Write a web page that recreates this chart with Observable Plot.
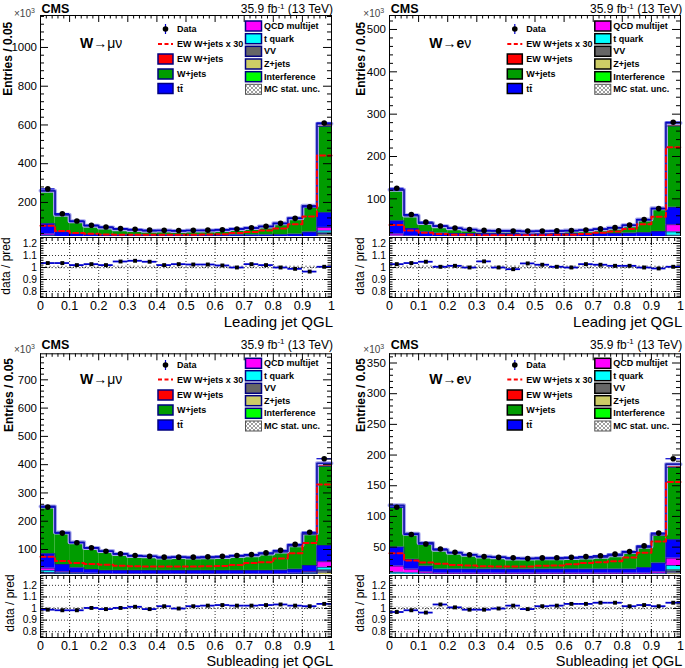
<!DOCTYPE html>
<html><head><meta charset="utf-8">
<script src="https://cdn.jsdelivr.net/npm/d3@7"></script>
<script src="https://cdn.jsdelivr.net/npm/@observablehq/plot@0.6"></script>
<style>
body{margin:0;background:#fff;}
#root{position:relative;width:685px;height:668px;overflow:hidden;background:#fff;}
#root svg{position:absolute;}
</style></head><body><div id="root"></div>
<script>
// ---------- shared axis / category data ----------
const binEdges = [0,0.05,0.1,0.15,0.2,0.25,0.3,0.35,0.4,0.45,0.5,0.55,0.6,0.65,0.7,0.75,0.8,0.85,0.9,0.95,1];
const xTickLabels = [0,0.1,0.2,0.3,0.4,0.5,0.6,0.7,0.8,0.9,1];
const ratioTickLabels = [0.8,0.9,1,1.1,1.2];
const compNames = ["Z+jets","VV","Interference","t quark","QCD multijet","tt\u0304","W+jets","EW W+jets"];
const compColors = ["#cccc66","#666666","#00ff00","#00ffff","#ff00ff","#0000ff","#009c00","#ff0000"];

// ---------- Leading jet, W -> mu nu ----------
const yTicksLeadMu = [200,400,600,800,1000];
const dataLeadMu  = [270,142,104,82,73,65,61,57,56,55,56,57,59,63,69,77,92,118,177,610];
const ratioLeadMu = [1.037,1.037,1.02,1.028,1.02,1.05,1.056,1.048,1.02,1.028,1.025,1.025,1.017,1.0,1.028,1.02,1.0,0.989,0.966,1.006];
const ewx30LeadMu = [80,52,42,38,35,33,33,33,33,33,33,34,36,42,47,55,65,88,128,442];
const wjetsLeadMu = [168,87,63,45,38,29,25,21,22,20,22,22,25,30,34,42,57,80,132,445];
const ttLeadMu    = [53,25,19,18,16,16,16,16,16,16,16,16,16,16,16,16,17,17,23,76];
const qcdLeadMu   = [8,4,3,2,2,2,2,2,2,2,2,2,2,2,2,2,2,3,4,18];
const tqLeadMu    = [8,5,4,3,3,3,3,3,3,3,3,3,3,3,3,3,3,4,5,10];
const vvLeadMu    = [4,3,2,2,2,2,2,2,2,2,2,2,2,2,2,2,2,2,3,8];
const zjLeadMu    = [15,10,9,8,8,8,8,8,8,8,8,8,8,8,8,8,8,9,11,32];
const intLeadMu   = [2,1,1,1,1,1,1,1,1,1,1,1,1,1,1,1,1,1,1,3];
const uncLeadMu   = [0.01,0.012,0.012,0.012,0.012,0.012,0.012,0.012,0.012,0.012,0.012,0.012,0.012,0.012,0.012,0.012,0.012,0.012,0.012,0.008];

// ---------- Leading jet, W -> e nu ----------
const yTicksLeadE = [100,200,300,400,500];
const dataLeadE  = [125,63,45,36,31,27.5,25.5,24.3,24,23.8,24,24.3,25,26.5,29,32,38,51,77,281];
const ratioLeadE = [1.028,1.037,1.048,1.006,1.014,1.0,1.051,1.0,0.986,1.034,1.023,1.006,1.0,1.028,1.023,1.014,1.014,1.0,0.992,1.006];
const ewx30LeadE = [38,25,20,17,15,15,14,14,14,14,14,15,15,17,20,23,29,40,58,222];
const wjetsLeadE = [72,30,20,16,12,9,6,6,6,4.5,5,5.7,6.5,7.2,9.6,12.8,17.5,29.7,52.7,192];
const ttLeadE    = [31,18,12.5,11.5,10.5,10.5,10.5,10.5,10.5,10.5,10.5,10.5,10.5,10.5,10.5,10.5,11.5,11.5,12.5,41];
const qcdLeadE   = [5,4,3,2,2,2,2,2,2,2,2,2,2,2,2,2,2,2,3,17];
const tqLeadE    = [4,3,2,2,2,2,2,2,2,2,2,2,2,2,2,2,2,2,3,8];
const vvLeadE    = [2,1,1,1,1,1,1,1,1,1,1,1,1,1,1,1,1,1,1,4];
const zjLeadE    = [5,3,3,2,2,2,2,2,2,2,2,2,2,2,2,2,2,3,3,8];
const intLeadE   = [1,1,0.5,0.5,0.5,0.5,0.5,0.5,0.5,0.5,0.5,0.5,0.5,0.5,0.5,0.5,0.5,0.5,0.5,2];
const uncLeadE   = [0.012,0.014,0.014,0.014,0.014,0.014,0.014,0.014,0.014,0.014,0.014,0.014,0.014,0.014,0.014,0.014,0.014,0.014,0.012,0.01];

// ---------- Subleading jet, W -> mu nu ----------
const yTicksSubMu = [100,200,300,400,500,600,700];
const dataSubMu  = [250,158,124,106,94,85,79,76,73,73,73,74,76,79,82,88,97,118,161,421];
const ratioSubMu = [0.99,0.985,0.985,1.005,0.995,1.005,1.015,0.995,1.02,1.0,1.02,1.025,1.03,1.025,1.025,1.03,1.035,1.025,1.02,1.04];
const ewx30SubMu = [74,59,52,49,46,43,41,40,40,40,40,41,42,45,52,55,68,87,123,330];
const wjetsSubMu = [165,111,89,75,67,57,50,49,44,46,44,45,46,50,52,58,64,82,110,280];
const ttSubMu    = [51,26,17,13,12,12,12,12,12,12,12,12,12,12,12,12,13,14,21.5,57];
const qcdSubMu   = [8,3,2,2,2,2,2,2,2,2,2,2,2,2,2,2,2,2,4,20];
const tqSubMu    = [7,4,3,2,2,2,2,2,2,2,2,2,2,2,2,2,2,2,4,9];
const vvSubMu    = [4,3,3,3,2,2,2,2,2,2,2,2,2,2,2,2,2,3,3,5];
const zjSubMu    = [13,10,9,8,7,7,7,7,7,7,7,7,7,7,7,7,7,8,10,20];
const intSubMu   = [2,1,1,1,1,1,1,1,1,1,1,1,1,1,1,1,1,1,1,3];
const uncSubMu   = [0.01,0.01,0.01,0.01,0.01,0.01,0.01,0.01,0.01,0.01,0.01,0.01,0.01,0.01,0.01,0.01,0.01,0.01,0.01,0.008];

// ---------- Subleading jet, W -> e nu ----------
const yTicksSubE = [50,100,150,200,250,300,350];
const dataSubE  = [115,70.5,55,47,41.5,37.5,34.5,33.2,32.5,31.3,32.4,32.6,33.4,34.5,36,38.5,42.7,52,72.8,194];
const ratioSubE = [0.97,0.985,0.965,1.035,1.01,0.99,0.99,1.0,1.025,0.995,1.02,1.025,1.04,1.04,1.05,1.05,1.02,1.03,1.02,1.05];
const ewx30SubE = [40,28,25,23,21,20,19,18.5,18.5,18.5,19.5,20,22,24,25.5,27,33,41,59,156];
const wjetsSubE = [67,41,37,31,26,23,20,19,17,17,17,17,17.4,18.4,19.4,21.8,26.8,32.6,45.4,118];
const ttSubE    = [31,16,9.5,6.5,6.5,6.5,6.5,6.5,6.5,6.5,6.5,6.5,6.5,6.5,6.5,6.5,6.5,9,14.5,30];
const qcdSubE   = [10,6,3,2,2,2,2,2,2,2,2,2,2,2,2,2,2,2,3,12];
const tqSubE    = [3,3,2,2,2,2,2,2,2,2,2,2,2,2,2,2,2,2,2,7];
const vvSubE    = [2,1,1,1,1,1,1,1,1,1,1,1,1,1,1,1,1,1,1,3];
const zjSubE    = [3,3,3,2,2,2,2,2,2,2,2,2,2,2,2,2,2,2,3,8];
const intSubE   = [1,1,0.5,0.5,0.5,0.5,0.5,0.5,0.5,0.5,0.5,0.5,0.5,0.5,0.5,0.5,0.5,0.5,0.5,2];
const uncSubE   = [0.012,0.012,0.012,0.012,0.012,0.012,0.012,0.012,0.012,0.012,0.012,0.012,0.012,0.012,0.012,0.012,0.012,0.012,0.012,0.01];

// ---------- text ----------
const legendCol1 = ["Data","EW W+jets x 30","EW W+jets","W+jets","tt\u0304"];
const legendCol2 = ["QCD multijet","t quark","VV","Z+jets","Interference","MC stat. unc."];
const col2Colors = ["#ff00ff","#00ffff","#666666","#cccc66","#00ff00"];

const FONT = "'Liberation Sans', Arial, Helvetica, sans-serif";
const root = document.getElementById("root");

const panels = [
  {id:"TL", ox:0, oy:0, lep:"mu", xTitle:"Leading jet QGL", yMax:1165, yTicks:yTicksLeadMu, yMinor:40,
   data:dataLeadMu, ratio:ratioLeadMu, ewx30:ewx30LeadMu, comps:[zjLeadMu,vvLeadMu,intLeadMu,tqLeadMu,qcdLeadMu,ttLeadMu,wjetsLeadMu], unc:uncLeadMu,
   mainTop:15, mainH:225.7, rTop:236, rH:60, rMB:35, rDom:[0.75,1.25], xPad:4,
   xTitleY:327, xTitleFs:15, cmsY:13.3, tenY:16.5, wY:48, yTitleX:11.5, yTitleTop:21.7, dpX:9.7, dpC:266,
   c1:[29,44,59,74,88.5], c2:[26,38.7,51.3,64,76.7,89.3], box:"#000080"},
  {id:"TR", ox:349.3, oy:0, lep:"e", xTitle:"Leading jet QGL", yMax:533, yTicks:yTicksLeadE, yMinor:20,
   data:dataLeadE, ratio:ratioLeadE, ewx30:ewx30LeadE, comps:[zjLeadE,vvLeadE,intLeadE,tqLeadE,qcdLeadE,ttLeadE,wjetsLeadE], unc:uncLeadE,
   mainTop:15, mainH:225.7, rTop:236, rH:60, rMB:35, rDom:[0.75,1.25], xPad:4,
   xTitleY:327, xTitleFs:15, cmsY:13.3, tenY:16.5, wY:48, yTitleX:365, yTitleTop:21.7, dpX:363.7, dpC:266,
   c1:[29,44,59,74,88.5], c2:[26,38.7,51.3,64,76.7,89.3], box:"#000000"},
  {id:"BL", ox:0, oy:338, lep:"mu", xTitle:"Subleading jet QGL", yMax:792, yTicks:yTicksSubMu, yMinor:20,
   data:dataSubMu, ratio:ratioSubMu, ewx30:ewx30SubMu, comps:[zjSubMu,vvSubMu,intSubMu,tqSubMu,qcdSubMu,ttSubMu,wjetsSubMu], unc:uncSubMu,
   mainTop:15.3, mainH:224, rTop:574, rH:62, rMB:31, rDom:[0.75,1.285], xPad:3.5,
   xTitleY:666, xTitleFs:14.5, cmsY:348.5, tenY:353, wY:384.3, yTitleX:13, yTitleTop:358, dpX:13.7, dpC:603,
   c1:[365,379.5,395,410,425], c2:[363.3,375.7,388.3,400.7,413.3,426], box:"#000080"},
  {id:"BR", ox:349.3, oy:338, lep:"e", xTitle:"Subleading jet QGL", yMax:365, yTicks:yTicksSubE, yMinor:10,
   data:dataSubE, ratio:ratioSubE, ewx30:ewx30SubE, comps:[zjSubE,vvSubE,intSubE,tqSubE,qcdSubE,ttSubE,wjetsSubE], unc:uncSubE,
   mainTop:15.3, mainH:224, rTop:574, rH:62, rMB:31, rDom:[0.75,1.285], xPad:3.5,
   xTitleY:666, xTitleFs:14.5, cmsY:348.5, tenY:353, wY:384.3, yTitleX:365, yTitleTop:358, dpX:363.7, dpC:603,
   c1:[365,379.5,395,410,425], c2:[363.3,375.7,388.3,400.7,413.3,426], box:"#000000"}
];

const PW = 291; // plot width in px (frame)
const xMinor = d3.range(0, 1.0001, 0.02).map(v => +v.toFixed(2)).filter(v => !xTickLabels.includes(v));

function insideTicks(xMaj, xMin, yMaj, yMin, W, H, lx, ly) {
  const s = {stroke: "black", strokeWidth: 1};
  return [
    Plot.tickX(xMaj, {x: d => d, insetTop: H - lx, ...s}),
    Plot.tickX(xMaj, {x: d => d, insetBottom: H - lx, ...s}),
    Plot.tickX(xMin, {x: d => d, insetTop: H - lx / 2, ...s}),
    Plot.tickX(xMin, {x: d => d, insetBottom: H - lx / 2, ...s}),
    Plot.tickY(yMaj, {y: d => d, insetRight: W - ly, ...s}),
    Plot.tickY(yMaj, {y: d => d, insetLeft: W - ly, ...s}),
    Plot.tickY(yMin, {y: d => d, insetRight: W - ly / 2, ...s}),
    Plot.tickY(yMin, {y: d => d, insetLeft: W - ly / 2, ...s})
  ];
}
function stepPoints(vals) {
  return binEdges.map((e, i) => ({x: e, y: vals[Math.min(i, vals.length - 1)]}));
}
function place(svg, left, top) {
  svg.style.position = "absolute";
  svg.style.left = left + "px";
  svg.style.top = top + "px";
  svg.style.maxWidth = "none";
  root.appendChild(svg);
}

panels.forEach(p => {
  const ew = p.ewx30.map(v => v / 30);
  const comps = [...p.comps, ew];
  const rects = [];
  const tops = comps.map(() => []);
  for (let i = 0; i < 20; i++) {
    let base = 0;
    comps.forEach((c, k) => {
      rects.push({x1: binEdges[i], x2: binEdges[i + 1], y1: base, y2: base + c[i], fill: compColors[k]});
      base += c[i];
      tops[k].push(base);
    });
  }
  const total = tops[tops.length - 1];
  const bins = p.data.map((d, i) => ({
    x1: binEdges[i], x2: binEdges[i + 1], xc: (binEdges[i] + binEdges[i + 1]) / 2,
    d, r: p.ratio[i], u: p.unc[i]
  }));
  const yMin = d3.range(0, p.yMax, p.yMinor).filter(v => !p.yTicks.includes(v));
  const step = {x: "x", y: "y", curve: "step-after"};

  const main = Plot.plot({
    width: 340, height: p.mainTop + p.mainH,
    marginLeft: 40, marginRight: 9, marginTop: p.mainTop, marginBottom: 0,
    style: {fontFamily: FONT, background: "white", color: "black", overflow: "visible"},
    x: {domain: [0, 1], axis: null},
    y: {domain: [0, p.yMax]},
    color: {type: "identity"},
    marks: [
      Plot.rect(rects, {x1: "x1", x2: "x2", y1: "y1", y2: "y2", fill: "fill"}),
      ...tops.slice(0, 6).map(t => Plot.line(stepPoints(t), {...step, stroke: "#1c1c8c", strokeWidth: 0.8})),
      Plot.line(stepPoints(total), {...step, stroke: "#a9a9ee", strokeWidth: 4}),
      Plot.line(stepPoints(tops[6]), {...step, stroke: "#1c1c8c", strokeWidth: 0.8}),
      Plot.line(stepPoints(total), {...step, stroke: "#1818b0", strokeWidth: 1.6}),
      Plot.line(stepPoints(p.ewx30), {...step, stroke: "#ff0000", strokeWidth: 2, strokeDasharray: "5,3"}),
      Plot.ruleY(bins, {y: "d", x1: "x1", x2: "x2", stroke: "#0000cc", strokeWidth: 1.2}),
      Plot.dot(bins, {x: "xc", y: "d", r: 2.8, fill: "black", stroke: null}),
      Plot.frame({stroke: "black"}),
      ...insideTicks(xTickLabels, xMinor, p.yTicks, yMin, PW, p.mainH, 7, 8),
      Plot.axisY({ticks: p.yTicks, tickSize: 0, tickPadding: 3.5, fontSize: 11.5, label: null, tickFormat: d => String(d)})
    ]
  });
  place(main, p.ox, p.oy);

  const rMinor = d3.range(0.76, p.rDom[1], 0.02).map(v => +v.toFixed(2)).filter(v => !ratioTickLabels.includes(v));
  const ratio = Plot.plot({
    width: 340, height: 1 + p.rH + p.rMB,
    marginLeft: 40, marginRight: 9, marginTop: 1, marginBottom: p.rMB,
    style: {fontFamily: FONT, background: "white", color: "black", overflow: "visible"},
    x: {domain: [0, 1]},
    y: {domain: p.rDom},
    marks: [
      Plot.ruleY(ratioTickLabels, {y: d => d, stroke: "black", strokeWidth: 0.8, strokeDasharray: "1,2"}),
      Plot.ruleX(xTickLabels.slice(1, -1), {x: d => d, stroke: "black", strokeWidth: 0.8, strokeDasharray: "1,2"}),
      Plot.rect(bins, {x1: "x1", x2: "x2", y1: d => 1 - d.u, y2: d => 1 + d.u, fill: `url(#hatch${p.id})`}),
      Plot.ruleY(bins, {y: "r", x1: "x1", x2: "x2", stroke: "#0000cc", strokeWidth: 1.8}),
      Plot.dot(bins, {x: "xc", y: "r", symbol: "square", r: 2.2, fill: "black", stroke: null}),
      Plot.frame({stroke: "black"}),
      ...insideTicks(xTickLabels, xMinor, ratioTickLabels, rMinor, PW, p.rH, 8, 7),
      Plot.axisX({ticks: xTickLabels, tickSize: 0, tickPadding: p.xPad, fontSize: 12.5, label: null, tickFormat: d => String(d)}),
      Plot.axisY({ticks: ratioTickLabels, tickSize: 0, tickPadding: 3.5, fontSize: 10.3, label: null, tickFormat: d => String(d)})
    ]
  });
  const defs = d3.select(ratio).insert("defs", ":first-child");
  const pat = defs.append("pattern").attr("id", `hatch${p.id}`).attr("patternUnits", "userSpaceOnUse")
    .attr("width", 4).attr("height", 4);
  pat.append("path").attr("d", "M0,0L4,4M4,0L0,4").attr("stroke", "#8a8a8a").attr("stroke-width", 0.7);
  place(ratio, p.ox, p.rTop);
});

// ---------- annotation overlay (titles, legends) ----------
const ov = d3.select(root).append("svg")
  .attr("width", 685).attr("height", 668)
  .style("position", "absolute").style("left", "0px").style("top", "0px")
  .style("font-family", FONT);
const odefs = ov.append("defs");
const lp = odefs.append("pattern").attr("id", "hatchLeg").attr("patternUnits", "userSpaceOnUse").attr("width", 4).attr("height", 4);
lp.append("path").attr("d", "M0,0L4,4M4,0L0,4").attr("stroke", "#777").attr("stroke-width", 0.7);

panels.forEach(p => {
  const ox = p.ox;
  ov.append("text").attr("x", ox + 41.5).attr("y", p.cmsY).attr("font-size", 12.5).attr("font-weight", "bold").text("CMS");
  const lumi = ov.append("text").attr("x", ox + 333).attr("y", p.cmsY).attr("font-size", 12).attr("text-anchor", "end");
  lumi.append("tspan").text("35.9 fb");
  lumi.append("tspan").attr("font-size", 8).attr("dy", -4.5).text("-1");
  lumi.append("tspan").attr("dy", 4.5).text(" (13 TeV)");
  const ten = ov.append("text").attr("x", ox + 14).attr("y", p.tenY).attr("font-size", 10).attr("fill", "#444");
  ten.append("tspan").text("\u00d710");
  ten.append("tspan").attr("font-size", 7).attr("dy", -4).text("3");

  const w = ov.append("text").attr("x", ox + 80).attr("y", p.wY).attr("font-size", 14);
  w.append("tspan").attr("font-weight", "bold").text("W");
  w.append("tspan").text("\u2192");
  if (p.lep === "mu") w.append("tspan").text("\u03bc\u03bd");
  else { w.append("tspan").attr("font-weight", "bold").text("e"); w.append("tspan").text("\u03bd"); }

  ov.append("text").attr("transform", `translate(${p.yTitleX},${p.yTitleTop}) rotate(-90)`)
    .attr("text-anchor", "end").attr("font-size", 12).attr("font-weight", "bold").text("Entries / 0.05");
  ov.append("text").attr("transform", `translate(${p.dpX},${p.dpC}) rotate(-90)`)
    .attr("text-anchor", "middle").attr("font-size", 12).text("data / pred");
  ov.append("text").attr("x", ox + 333).attr("y", p.xTitleY).attr("text-anchor", "end").attr("font-size", p.xTitleFs).text(p.xTitle);

  // legend column 1
  const sx1 = ox + 158, tx1 = ox + 177;
  legendCol1.forEach((name, i) => {
    const cy = p.c1[i];
    if (i === 0) {
      ov.append("line").attr("x1", sx1 + 7.5).attr("x2", sx1 + 7.5).attr("y1", cy - 5).attr("y2", cy + 5).attr("stroke", "#0000cc").attr("stroke-width", 1.2);
      ov.append("circle").attr("cx", sx1 + 7.5).attr("cy", cy).attr("r", 2.8).attr("fill", "black");
    } else if (i === 1) {
      ov.append("line").attr("x1", sx1).attr("x2", sx1 + 15).attr("y1", cy).attr("y2", cy).attr("stroke", "#ff0000").attr("stroke-width", 2).attr("stroke-dasharray", "4,2.5");
    } else {
      const col = [null, null, "#ff0000", "#009c00", "#0000ff"][i];
      ov.append("rect").attr("x", sx1).attr("y", cy - 5).attr("width", 15).attr("height", 10)
        .attr("fill", col).attr("stroke", p.box).attr("stroke-width", 1.5);
    }
    ov.append("text").attr("x", tx1).attr("y", cy).attr("dy", "0.35em").attr("font-size", 9).attr("font-weight", "bold").text(name);
  });
  // legend column 2
  const sx2 = ox + 245.5, tx2 = ox + 264;
  legendCol2.forEach((name, i) => {
    const cy = p.c2[i];
    ov.append("rect").attr("x", sx2).attr("y", cy - 5).attr("width", 16).attr("height", 10)
      .attr("fill", i < 5 ? col2Colors[i] : "url(#hatchLeg)")
      .attr("stroke", i < 5 ? p.box : "#555").attr("stroke-width", i < 5 ? 1.5 : 1);
    ov.append("text").attr("x", tx2).attr("y", cy).attr("dy", "0.35em").attr("font-size", 9).attr("font-weight", "bold").text(name);
  });
});
</script>
</body></html>
